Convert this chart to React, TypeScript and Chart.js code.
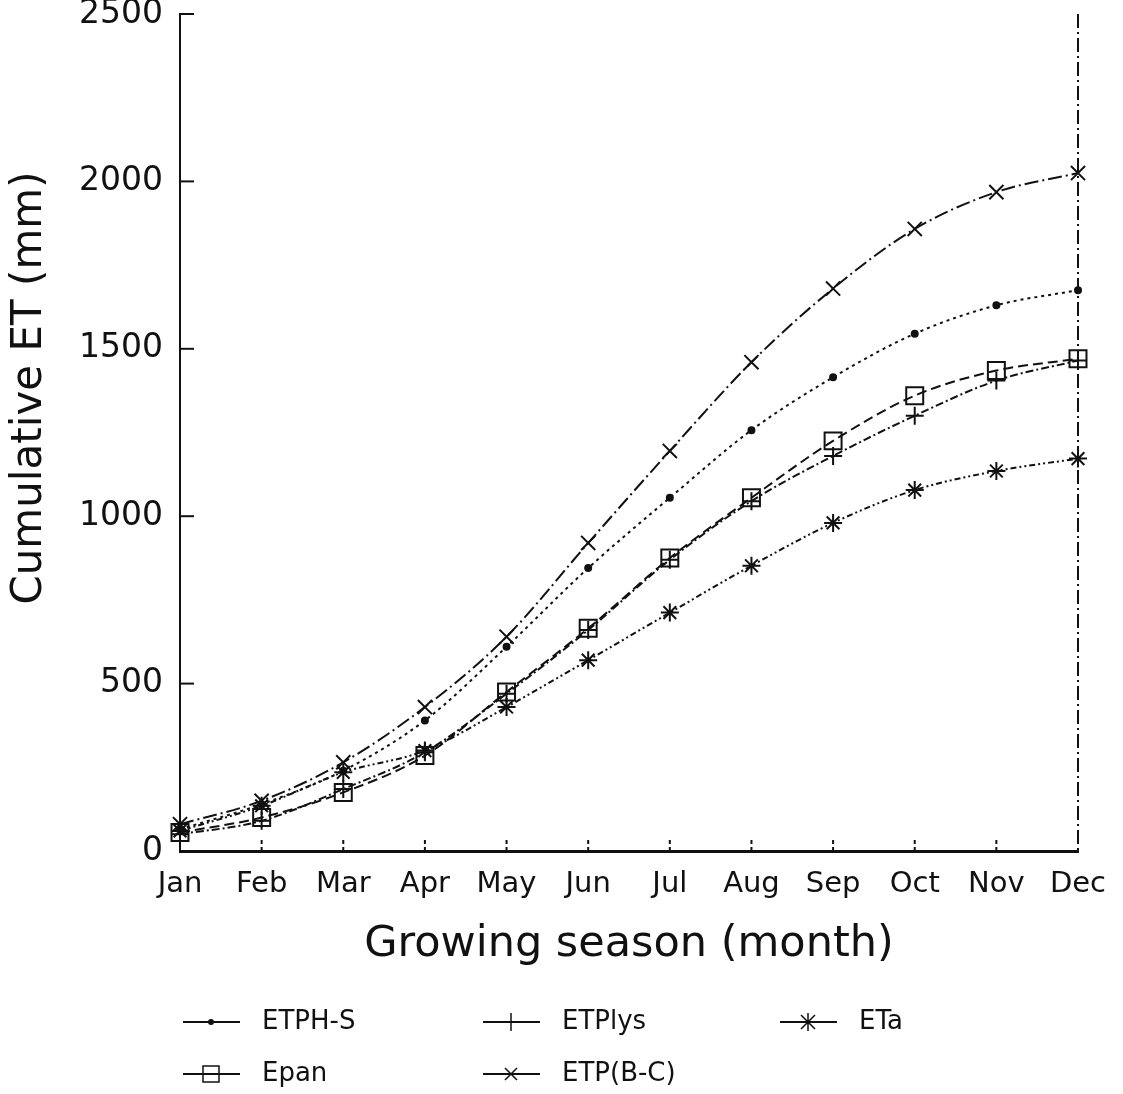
import React, { useEffect, useRef } from "react";
import { Chart, registerables } from "chart.js";

Chart.register(...registerables);

const months = ["Jan", "Feb", "Mar", "Apr", "May", "Jun", "Jul", "Aug", "Sep", "Oct", "Nov", "Dec"];
const yTickValues = [0, 500, 1000, 1500, 2000, 2500];

const etphS = [65, 140, 240, 390, 610, 845, 1055, 1257, 1415, 1545, 1630, 1675];
const etpLys = [50, 90, 185, 295, 470, 660, 870, 1045, 1180, 1300, 1405, 1465];
const eta = [60, 135, 235, 300, 430, 570, 712, 852, 980, 1078, 1135, 1172];
const epan = [55, 100, 175, 285, 475, 665, 875, 1055, 1225, 1360, 1435, 1470];
const etpBC = [80, 150, 265, 430, 640, 920, 1195, 1460, 1680, 1858, 1968, 2025];

const yTitle = "Cumulative ET (mm)";
const xTitle = "Growing season (month)";

const INK = "#111";
const FONT = "'DejaVu Sans', 'Liberation Sans', sans-serif";

type LegendItem = { label: string; marker: string; col: number; row: number };
const legendItems: LegendItem[] = [
  { label: "ETPH-S", marker: "dot", col: 0, row: 0 },
  { label: "ETPlys", marker: "plus", col: 1, row: 0 },
  { label: "ETa", marker: "star", col: 2, row: 0 },
  { label: "Epan", marker: "square", col: 0, row: 1 },
  { label: "ETP(B-C)", marker: "x", col: 1, row: 1 },
];

function drawMarker(ctx: CanvasRenderingContext2D, kind: string, cx: number, cy: number) {
  ctx.beginPath();
  if (kind === "dot") {
    ctx.arc(cx, cy, 3, 0, Math.PI * 2);
    ctx.fill();
    return;
  }
  if (kind === "plus") {
    ctx.moveTo(cx, cy - 9); ctx.lineTo(cx, cy + 9);
  } else if (kind === "star") {
    ctx.moveTo(cx, cy - 9); ctx.lineTo(cx, cy + 9);
    ctx.moveTo(cx - 7, cy - 7); ctx.lineTo(cx + 7, cy + 7);
    ctx.moveTo(cx - 7, cy + 7); ctx.lineTo(cx + 7, cy - 7);
  } else if (kind === "square") {
    ctx.rect(cx - 8, cy - 8, 16, 16);
  } else if (kind === "x") {
    ctx.moveTo(cx - 6, cy - 6); ctx.lineTo(cx + 6, cy + 6);
    ctx.moveTo(cx - 6, cy + 6); ctx.lineTo(cx + 6, cy - 6);
  }
  ctx.stroke();
}

const decor = {
  id: "decor",
  afterDraw(chart: any) {
    const { ctx, chartArea: a, scales } = chart;
    const x = scales.x;
    const y = scales.y;
    ctx.save();
    ctx.strokeStyle = INK;
    ctx.fillStyle = INK;
    ctx.lineWidth = 2;
    ctx.setLineDash([14, 4, 2, 4]);
    ctx.beginPath();
    ctx.moveTo(a.right, a.top);
    ctx.lineTo(a.right, a.bottom);
    ctx.stroke();
    ctx.setLineDash([]);
    yTickValues.forEach((v) => {
      if (v <= 0) return;
      const py = y.getPixelForValue(v);
      ctx.beginPath();
      ctx.moveTo(a.left, py);
      ctx.lineTo(a.left + 14, py);
      ctx.stroke();
    });
    ctx.setLineDash([4, 3]);
    months.forEach((_, i) => {
      if (i === 0 || i === months.length - 1) return;
      const px = x.getPixelForValue(i);
      ctx.beginPath();
      ctx.moveTo(px, a.bottom);
      ctx.lineTo(px, a.bottom - 14);
      ctx.stroke();
    });
    ctx.setLineDash([]);
    ctx.save();
    ctx.translate(30, 388);
    ctx.rotate(-Math.PI / 2);
    ctx.font = `42px ${FONT}`;
    ctx.textAlign = "center";
    ctx.textBaseline = "middle";
    ctx.fillText(yTitle, 0, 0);
    ctx.restore();
    ctx.font = `43px ${FONT}`;
    ctx.textAlign = "center";
    ctx.textBaseline = "middle";
    ctx.fillText(xTitle, (a.left + a.right) / 2, 945);
    const colX = [183, 483, 780];
    const rowY = [1022, 1074];
    ctx.font = `26px ${FONT}`;
    ctx.textAlign = "left";
    ctx.textBaseline = "middle";
    legendItems.forEach((it) => {
      const x0 = colX[it.col];
      const yy = rowY[it.row];
      ctx.lineWidth = 2;
      ctx.beginPath();
      ctx.moveTo(x0, yy);
      ctx.lineTo(x0 + 57, yy);
      ctx.stroke();
      ctx.lineWidth = 1.5;
      drawMarker(ctx, it.marker, x0 + 28, yy);
      ctx.fillText(it.label, x0 + 79, yy);
    });
    ctx.restore();
  },
};

function makeSet(label: string, data: number[], style: string, radius: number, dash: number[]) {
  return {
    label,
    data,
    borderColor: INK,
    backgroundColor: "rgba(0,0,0,0)",
    pointBorderColor: INK,
    pointBackgroundColor: style === "circle" ? INK : "rgba(0,0,0,0)",
    pointStyle: style,
    pointRadius: radius,
    pointBorderWidth: 2,
    borderWidth: 2,
    borderDash: dash,
    cubicInterpolationMode: "monotone",
    fill: false,
    clip: false,
  };
}

export default function App() {
  const ref = useRef<HTMLCanvasElement>(null);
  useEffect(() => {
    if (!ref.current) return;
    const chart = new Chart(ref.current, {
      type: "line",
      data: {
        labels: months,
        datasets: [
          makeSet("ETP(B-C)", etpBC, "crossRot", 10, [14, 4, 2, 4]),
          makeSet("ETPH-S", etphS, "circle", 3, [3, 4]),
          makeSet("Epan", epan, "rect", 12, [10, 5]),
          makeSet("ETPlys", etpLys, "cross", 9, [8, 3, 2, 3]),
          makeSet("ETa", eta, "star", 9, [6, 3, 2, 3, 2, 3]),
        ] as any,
      },
      options: {
        animation: false,
        responsive: false,
        maintainAspectRatio: false,
        layout: { padding: { top: 14, right: 45, left: 0, bottom: 0 } },
        plugins: { legend: { display: false }, tooltip: { enabled: false } },
        scales: {
          x: {
            type: "category",
            offset: false,
            grid: { display: false, drawTicks: false },
            border: { display: true, color: INK, width: 3 },
            ticks: { color: INK, font: { family: FONT, size: 29 }, padding: 16, maxRotation: 0, autoSkip: false },
            afterFit: (s: any) => { s.height = 243; s.paddingLeft = 0; s.paddingRight = 0; },
          },
          y: {
            type: "linear",
            min: 0,
            max: 2500,
            grid: { display: false, drawTicks: false },
            border: { display: true, color: INK, width: 2 },
            ticks: {
              color: INK,
              stepSize: 500,
              font: { family: FONT, size: 33 },
              padding: 17,
              callback: (v: any) => String(v),
            },
            afterFit: (s: any) => { s.width = 180; s.paddingTop = 0; s.paddingBottom = 0; },
          },
        },
      } as any,
      plugins: [decor],
    });
    return () => chart.destroy();
  }, []);
  return (
    <div style={{ position: "absolute", left: 0, top: 0, width: 1123, height: 1094, background: "#fff" }}>
      <canvas ref={ref} width={1123} height={1094} style={{ display: "block" }} />
    </div>
  );
}
